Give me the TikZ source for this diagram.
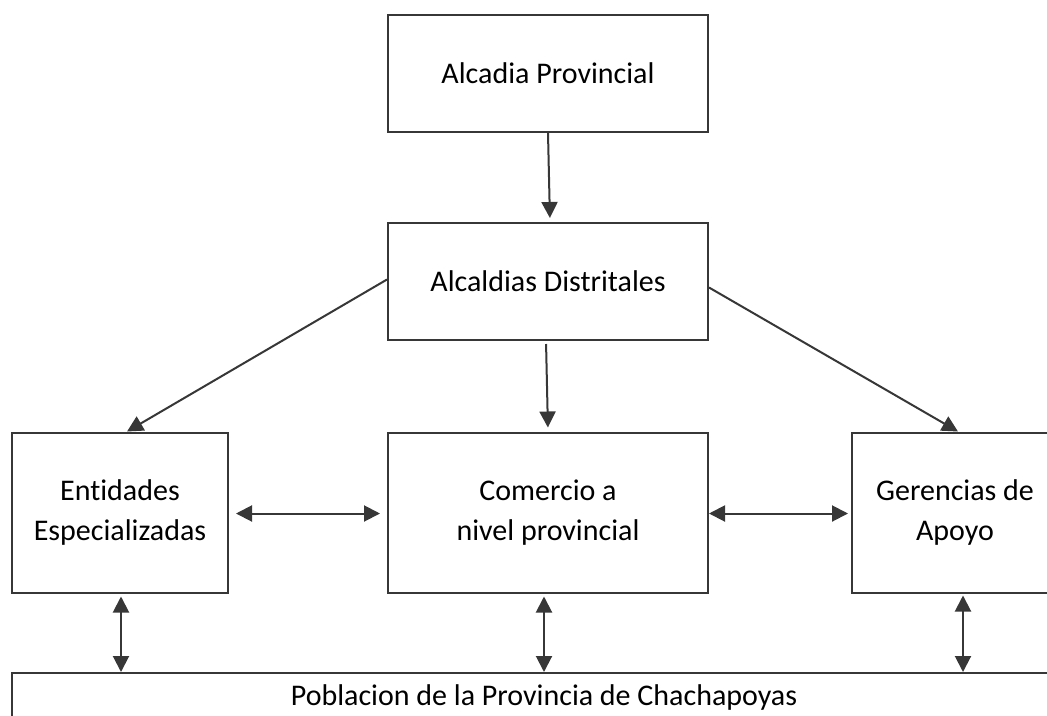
\documentclass[tikz,border=0pt]{standalone}
\usepackage{fontspec}
\setmainfont{Carlito}[Ligatures={NoCommon}]
\usetikzlibrary{arrows.meta}
\definecolor{edge}{RGB}{55,55,55}
\tikzset{
  box/.style={draw=edge, line width=2pt, inner sep=0pt, align=center,
    font=\fontsize{30}{40}\selectfont, text=black},
  tip/.tip={Triangle[length=16pt,width=16pt]},
  conn/.style={draw=edge, line width=2pt, -tip},
  bconn/.style={draw=edge, line width=2pt, tip-tip}
}
\begin{document}
\begin{tikzpicture}[x=1pt,y=-1pt]
\useasboundingbox (0,0) rectangle (1047,715);
\clip (0,0) rectangle (1047,715);
\node[box, minimum width=320pt, minimum height=117pt] (prov) at (548,73.5) {Alcadia Provincial};
\node[box, minimum width=320pt, minimum height=117pt] (dist) at (548,281.5) {Alcaldias Distritales};
\node[box, minimum width=216pt, minimum height=160pt] (ent) at (120,512.5) {Entidades\\Especializadas};
\node[box, minimum width=320pt, minimum height=160pt] (com) at (548,512.5) {Comercio a\\nivel provincial};
\node[box, minimum width=206pt, minimum height=160pt] (ger) at (955,512.5) {Gerencias de\\Apoyo};
\node[box, minimum width=1064pt, minimum height=48pt] (pob) at (544,697) {Poblacion de la Provincia de Chachapoyas};

\draw[conn, shorten >=4pt] (prov.south) -- ([xshift=2pt]dist.north);
\draw[conn, shorten <=3pt, shorten >=4pt] ([xshift=-2pt]dist.south) -- (com.north);
\draw[conn] ([yshift=2pt]dist.west) -- ([xshift=7pt]ent.north);
\draw[conn] ([yshift=-6pt]dist.east) -- ([xshift=3pt]ger.north);
\draw[bconn, shorten <=7pt, shorten >=7pt] ([yshift=-1pt]ent.east) -- ([yshift=-1pt]ent.east -| com.west);
\draw[bconn, shorten >=3pt] ([yshift=-1pt]com.east) -- ([yshift=-1pt]com.east -| ger.west);
\draw[bconn, shorten <=3pt] ([xshift=1pt]ent.south) -- ([xshift=1pt]ent.south |- pob.north);
\draw[bconn, shorten <=3pt] ([xshift=-4pt]com.south) -- ([xshift=-4pt]com.south |- pob.north);
\draw[bconn, shorten <=2pt] ([xshift=8pt]ger.south) -- ([xshift=8pt]ger.south |- pob.north);
\end{tikzpicture}
\end{document}
